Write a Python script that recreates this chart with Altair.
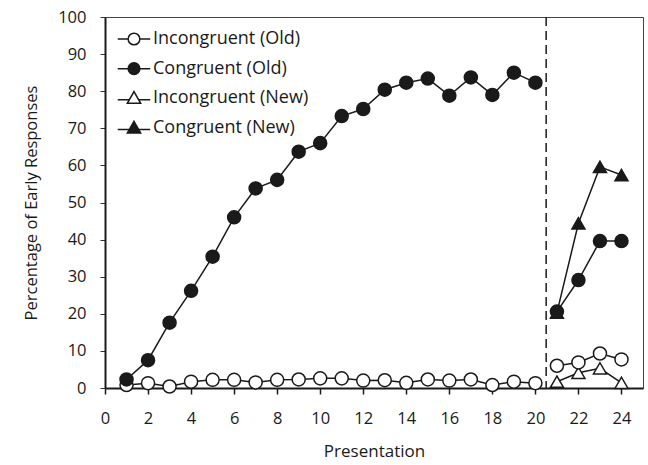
import altair as alt
import pandas as pd

# ---- data ----
presentations = [1, 2, 3, 4, 5, 6, 7, 8, 9, 10, 11, 12, 13, 14, 15, 16, 17, 18, 19, 20, 21, 22, 23, 24]
incongruent_old = [0.8, 1.3, 0.4, 1.7, 2.2, 2.2, 1.5, 2.2, 2.3, 2.6, 2.6, 2.0,
                   2.1, 1.4, 2.3, 2.0, 2.3, 0.8, 1.7, 1.3, 6.0, 6.9, 9.3, 7.7]
congruent_old = [2.3, 7.5, 17.6, 26.2, 35.4, 46.0, 53.8, 56.1, 63.7, 66.0, 73.3, 75.2,
                 80.4, 82.3, 83.4, 78.8, 83.7, 79.0, 85.0, 82.3, 20.6, 29.1, 39.6, 39.6]
new_presentations = [21, 22, 23, 24]
incongruent_new = [1.7, 4.1, 5.3, 1.4]
congruent_new = [20.3, 44.4, 59.6, 57.4]
switch_point = [20.5]

series_names = ["Incongruent (Old)", "Congruent (Old)", "Incongruent (New)", "Congruent (New)"]
last_training = 20

rows = []
def add(name, xs, ys, marker):
    for x, y in zip(xs, ys):
        rows.append({"series": name, "presentation": x, "pct": y, "marker": marker,
                     "segment": name + (" A" if x <= last_training else " B")})

# drawing order: new series first, congruent old on top
add("Incongruent (New)", new_presentations, incongruent_new, "tri")
add("Congruent (New)", new_presentations, congruent_new, "tri")
add("Incongruent (Old)", presentations, incongruent_old, "circ")
add("Congruent (Old)", presentations, congruent_old, "circ")
df = pd.DataFrame(rows)
df_rule = pd.DataFrame({"x": switch_point})

INK = "#1a1a1a"
FONT = "Open Sans"

# legend symbols: line - marker - line (unit = half of symbol width)
circ = "M-1,0H-0.36M0.36,0H1M-0.36,0A0.36,0.36 0 1,0 0.36,0A0.36,0.36 0 1,0 -0.36,0Z"
tri = "M-1,0.08H-0.25M0.25,0.08H1M0,-0.42L0.41,0.3L-0.41,0.3Z"
shape_expr = ("indexof(datum.value, 'New') >= 0 ? '" + tri + "' : '" + circ + "'")

x_enc = alt.X("presentation:Q",
              scale=alt.Scale(domain=[0, 25], nice=False, zero=False),
              axis=alt.Axis(values=list(range(0, 25)),
                            labelExpr="datum.value % 2 === 0 ? datum.label : ''",
                            title="Presentation", grid=False, labelFlush=False,
                            domainColor=INK, domainWidth=2,
                            tickColor=INK, tickWidth=1.5, tickSize=6,
                            labelFontSize=16.5, labelPadding=16, labelColor=INK,
                            titleFontSize=17, titleFontWeight="normal", titleColor=INK,
                            titleX=269, titleY=63, titleBaseline="middle"))
y_enc = alt.Y("pct:Q",
              scale=alt.Scale(domain=[0, 100], nice=False),
              axis=alt.Axis(values=list(range(0, 101, 10)),
                            title="Percentage of Early Responses", grid=False,
                            domainColor=INK, domainWidth=2,
                            tickColor="#333", tickWidth=1, tickSize=5,
                            labelFontSize=16.5, labelPadding=14, labelColor=INK,
                            titleFontSize=16.5, titleFontWeight="normal", titleColor=INK,
                            titleX=-74, titleY=185.5, titleBaseline="middle"))

lines = alt.Chart(df).mark_line(color=INK, strokeWidth=1.5).encode(
    x=x_enc, y=y_enc, detail="segment:N", order="presentation:Q")

points = alt.Chart(df).mark_point(filled=True, size=170, stroke=INK, strokeWidth=1.5, opacity=1).encode(
    x=x_enc, y=y_enc,
    shape=alt.Shape("marker:N",
                    scale=alt.Scale(domain=["circ", "tri"], range=["circle", "triangle-up"]),
                    legend=None),
    fill=alt.Fill("series:N",
                  scale=alt.Scale(domain=series_names,
                                  range=["white", INK, "white", INK]),
                  legend=alt.Legend(
                      title=None, orient="none", legendX=12, legendY=5,
                      symbolType={"expr": shape_expr},
                      symbolSize=1056, symbolStrokeWidth=1.5, symbolStrokeColor=INK,
                      labelFontSize=18, labelFont=FONT, labelColor=INK, labelOffset=2,
                      rowPadding=3.7, padding=0)),
)

rule = alt.Chart(df_rule).mark_rule(color=INK, strokeWidth=1.5, strokeDash=[9, 5]).encode(x="x:Q")

chart = alt.layer(rule, lines, points).properties(
    width=538, height=371,
    autosize=alt.AutoSizeParams(type="none"),
    padding={"left": 105, "top": 17, "right": 5, "bottom": 77},
).configure(font=FONT).configure_view(stroke="#444", strokeWidth=1)

chart.save("out.html", embed_options={"renderer": "svg", "actions": False})
